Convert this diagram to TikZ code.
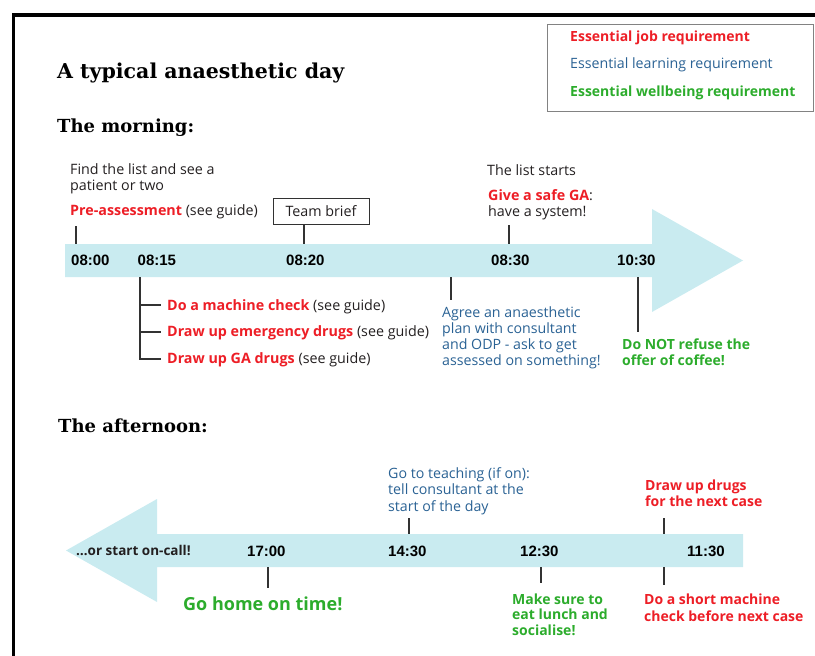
\documentclass[tikz,border=0pt]{standalone}
\usepackage{fontspec}
\setmainfont{Open Sans}
\newfontfamily\timefont{Liberation Sans}
\newfontfamily\headfont{DejaVu Serif}
\definecolor{jobred}{RGB}{237,30,38}
\definecolor{learnblue}{RGB}{42,98,148}
\definecolor{wellgreen}{RGB}{44,172,44}
\definecolor{bandcyan}{RGB}{201,235,240}
\definecolor{darktext}{RGB}{35,31,32}
\definecolor{tickgray}{RGB}{50,50,50}
\definecolor{legendgray}{RGB}{130,130,130}
\newcommand\jobtxt[1]{\textcolor{jobred}{\bfseries #1}}
\begin{document}
\begin{tikzpicture}[x=1pt,y=-1pt,
  txt/.style={inner sep=0pt, anchor=base west, align=left, text=darktext, font=\fontsize{14.3}{16}\selectfont},
  jobt/.style={txt, text=jobred, font=\bfseries\fontsize{14}{16}\selectfont},
  learnt/.style={txt, text=learnblue, font=\fontsize{14.2}{16}\selectfont},
  wellt/.style={txt, text=wellgreen, font=\bfseries\fontsize{14}{16}\selectfont},
  timet/.style={inner sep=0pt, anchor=base west, text=black, font=\timefont\bfseries\fontsize{15}{16}\selectfont},
  headt/.style={inner sep=0pt, anchor=base west, text=black, font=\headfont\bfseries\fontsize{18}{20}\selectfont},
  tickline/.style={draw=tickgray, line width=1.2pt},
  band/.style={fill=bandcyan}
]
\useasboundingbox (0,0) rectangle (815,656);
% frame
\draw[line width=3.3pt, line join=miter] (13.3,660) -- (13.3,15) -- (820,15);

% headings
\node[headt, font=\headfont\bfseries\fontsize{20.5}{24}\selectfont] (title) at (57,78) {A typical anaesthetic day};
\node[headt] (morning) at (57,132) {The morning:};
\node[headt] (afternoon) at (58,432) {The afternoon:};

% legend
\node[draw=legendgray, line width=0.8pt, minimum width=266pt, minimum height=87pt, inner sep=0pt] (legend) at (680,67.5) {};
\node[jobt] (legjob) at (570,41) {Essential job requirement};
\node[learnt] (leglearn) at (570,68) {Essential learning requirement};
\node[wellt] (legwell) at (570,96) {Essential wellbeing requirement};

% morning band
\fill[band] (65,244) -- (652,244) -- (652,209) -- (743,260.5) -- (652,312) -- (652,277) -- (65,277) -- cycle;
\node[timet] (m0800) at (71,265) {08:00};
\node[timet] (m0815) at (137.5,265) {08:15};
\node[timet] (m0820) at (286,265) {08:20};
\node[timet] (m0830) at (491,265) {08:30};
\node[timet] (m1030) at (617,265) {10:30};

% morning texts (multi-line nodes: base = last line)
\node[txt] (find) at (70,190) {Find the list and see a\\patient or two};
\node[txt] (pre) at (70,215) {\jobtxt{Pre-assessment} (see guide)};
\node[draw=tickgray, line width=0.9pt, minimum width=96pt, minimum height=26pt, inner sep=0pt, text=darktext, font=\fontsize{14.3}{16}\selectfont] (brief) at (321,211) {Team brief};
\node[txt] (liststarts) at (487,175) {The list starts};
\node[txt] (safega) at (488,216) {\jobtxt{Give a safe GA}:\\have a system!};
\node[txt] (machine) at (167,310) {\jobtxt{Do a machine check} (see guide)};
\node[txt] (emerg) at (167,336) {\jobtxt{Draw up emergency drugs} (see guide)};
\node[txt] (gadrugs) at (167,363) {\jobtxt{Draw up GA drugs} (see guide)};
\node[learnt] (agree) at (442,365) {Agree an anaesthetic\\plan with consultant\\and ODP - ask to get\\assessed on something!};
\node[wellt] (coffee) at (622,365) {Do NOT refuse the\\offer of coffee!};

% morning tick coordinates
\coordinate (a0800t) at (76,226);   \coordinate (a0800b) at (76,244);
\coordinate (a0815t) at (140,277);  \coordinate (a0815b) at (140,359.5);
\coordinate (br1) at (140,305);     \coordinate (br1e) at (161,305);
\coordinate (br2) at (140,332);     \coordinate (br2e) at (161,332);
\coordinate (br3) at (140,359);     \coordinate (br3e) at (161,359);
\coordinate (a0820b) at (304,244);
\coordinate (a0830t) at (509,225);  \coordinate (a0830b) at (509,244);
\coordinate (agreet) at (451,277);  \coordinate (agreeb) at (451,300);
\coordinate (a1030t) at (638,277);  \coordinate (a1030b) at (638,332);

\draw[tickline] (a0800t) -- (a0800b);
\draw[tickline] (a0815t) -- (a0815b);
\draw[tickline] (br1) -- (br1e);
\draw[tickline] (br2) -- (br2e);
\draw[tickline] (br3) -- (br3e);
\draw[tickline] (brief.south -| a0820b) -- (a0820b);
\draw[tickline] (a0830t) -- (a0830b);
\draw[tickline] (agreet) -- (agreeb);
\draw[tickline] (a1030t) -- (a1030b);

% afternoon band
\fill[band] (743,534) -- (157,534) -- (157,499) -- (66,550.5) -- (157,602) -- (157,567) -- (743,567) -- cycle;
\node[txt, font=\bfseries\fontsize{13.5}{15}\selectfont] (oncall) at (76,555) {\ldots or start on-call!};
\node[timet] (p1700) at (247,556) {17:00};
\node[timet] (p1430) at (388,556) {14:30};
\node[timet] (p1230) at (520,556) {12:30};
\node[timet] (p1130) at (687,556) {11:30};

% afternoon texts
\node[wellt, font=\bfseries\fontsize{18}{20}\selectfont] (gohome) at (183,610) {Go home on time!};
\node[learnt, font=\fontsize{14.2}{16.5}\selectfont] (teach) at (388,511) {Go to teaching (if on):\\tell consultant at the\\start of the day};
\node[jobt] (drawnext) at (645,506) {Draw up drugs\\for the next case};
\node[wellt, font=\bfseries\fontsize{14}{15.5}\selectfont] (lunch) at (512,635) {Make sure to\\eat lunch and\\socialise!};
\node[jobt, font=\bfseries\fontsize{14}{17}\selectfont] (shortcheck) at (644,621) {Do a short machine\\check before next case};

% afternoon ticks
\coordinate (b1700t) at (268,567);  \coordinate (b1700b) at (268,588);
\coordinate (b1430t) at (409,518);  \coordinate (b1430b) at (409,534);
\coordinate (b1230t) at (541,567);  \coordinate (b1230b) at (541,583);
\coordinate (b1130a) at (664,518);  \coordinate (b1130b) at (664,534);
\coordinate (b1130c) at (664,567);  \coordinate (b1130d) at (664,585);
\draw[tickline] (b1700t) -- (b1700b);
\draw[tickline] (b1430t) -- (b1430b);
\draw[tickline] (b1230t) -- (b1230b);
\draw[tickline] (b1130a) -- (b1130b);
\draw[tickline] (b1130c) -- (b1130d);
\end{tikzpicture}
\end{document}
